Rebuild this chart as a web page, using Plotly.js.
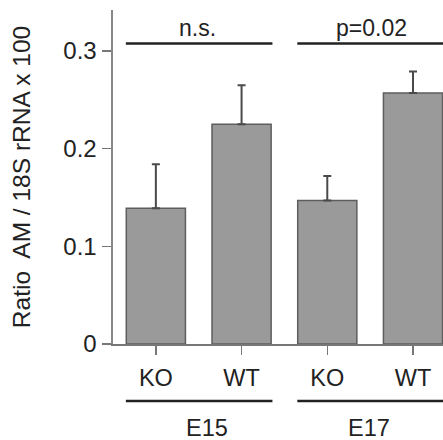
<!DOCTYPE html>
<html>
<head>
<meta charset="utf-8">
<script src="https://cdn.plot.ly/plotly-3.0.1.min.js"></script>
<style>html,body{margin:0;padding:0;background:#fff;}#chart{width:443px;height:440px;}</style>
</head>
<body>
<div id="chart"></div>
<script>
const categories = ["KO", "WT", "KO", "WT"];
const groups = ["E15", "E17"];
const values = [0.139, 0.225, 0.147, 0.257];
const errors = [0.045, 0.040, 0.025, 0.022];
const sigLabels = ["n.s.", "p=0.02"];
const yTicks = [0, 0.1, 0.2, 0.3];
const yTickText = ["0", "0.1", "0.2", "0.3"];

const xpos = categories.map((c, i) => i);
const FONT = "Liberation Sans, Arial, Helvetica, sans-serif";

const trace = {
  type: "bar",
  x: xpos,
  y: values,
  width: 0.69,
  marker: {color: "#9a9a9a", line: {color: "#5e5e5e", width: 1.5}},
  error_y: {type: "data", array: errors, arrayminus: errors.map(() => 0), symmetric: false,
            color: "#4a4a4a", thickness: 2, width: 4},
  hoverinfo: "none"
};

const shapes = [];
const annotations = [];
const groupSpans = [[-0.35, 1.36], [1.65, 3.5]];
groupSpans.forEach((s, g) => {
  shapes.push({type: "line", xref: "x", yref: "y", x0: s[0], x1: s[1], y0: 0.3077, y1: 0.3077,
               line: {color: "#222222", width: 2.5}});
  shapes.push({type: "line", xref: "x", yref: "paper", x0: s[0], x1: s[1], y0: -0.1707, y1: -0.1707,
               line: {color: "#222222", width: 2.5}});
  annotations.push({xref: "x", yref: "y", x: g === 0 ? 0.48 : 2.51, y: 0.3077, yshift: 16,
                    yanchor: "middle", xanchor: "center",
                    text: sigLabels[g], showarrow: false, font: {size: 23, color: "#222", family: FONT}});
  annotations.push({xref: "x", yref: "paper", x: g === 0 ? 0.6 : 2.49, y: -0.251,
                    yanchor: "middle", xanchor: "center",
                    text: groups[g], showarrow: false, font: {size: 23.5, color: "#222", family: FONT}});
});

const layout = {
  width: 443, height: 440,
  margin: {l: 113, r: 0, t: 10, b: 96},
  paper_bgcolor: "#fff", plot_bgcolor: "#fff",
  showlegend: false,
  bargap: 0,
  font: {family: FONT, color: "#222"},
  xaxis: {
    range: [-0.5, 3.35],
    tickvals: xpos, ticktext: categories,
    ticks: "outside", ticklen: 9, tickwidth: 1.5, tickcolor: "#777",
    ticklabelstandoff: 3,
    showline: true, linecolor: "#777", linewidth: 2,
    showgrid: false, zeroline: false,
    tickfont: {size: 23.5, family: FONT, color: "#222"},
    fixedrange: true
  },
  yaxis: {
    range: [0, 0.342],
    tickvals: yTicks, ticktext: yTickText,
    ticks: "outside", ticklen: 9, tickwidth: 1.5, tickcolor: "#777",
    ticklabelstandoff: 0,
    showline: true, linecolor: "#888", linewidth: 2.5,
    showgrid: false, zeroline: false,
    tickfont: {size: 24, family: FONT, color: "#222"},
    title: {text: "Ratio  AM / 18S rRNA x 100", font: {size: 24.5, family: FONT, color: "#222"}, standoff: 26},
    automargin: false,
    fixedrange: true
  },
  shapes: shapes,
  annotations: annotations
};

Plotly.newPlot("chart", [trace], layout, {displayModeBar: false, staticPlot: true});
</script>
</body>
</html>
